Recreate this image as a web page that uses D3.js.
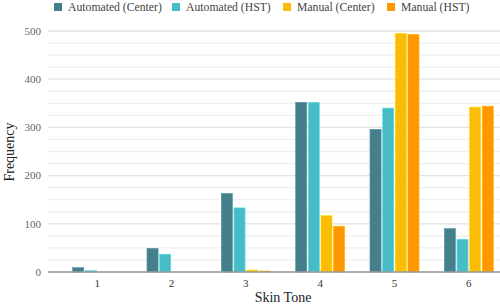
<!DOCTYPE html>
<html><head><meta charset="utf-8">
<script src="https://cdn.jsdelivr.net/npm/d3@7"></script>
<style>body{margin:0;background:#fff;}</style>
</head><body><svg width="500" height="306"></svg>
<script>
const categories = ["1","2","3","4","5","6"];
const seriesNames = ["Automated (Center)","Automated (HST)","Manual (Center)","Manual (HST)"];
const autoCenter = [9, 49, 163, 352, 296, 90];
const autoHST = [3, 37, 133, 352, 340, 68];
const manualCenter = [0, 0, 4, 117, 495, 342];
const manualHST = [0, 0, 2, 95, 493, 344];
const yTicks = [0,100,200,300,400,500];
const colors = ["#457f8c","#47bcc6","#fbbc05","#ff9800"];
const series = [autoCenter, autoHST, manualCenter, manualHST];
const FONT = "'Liberation Serif', 'Times New Roman', serif";

const svg = d3.select("svg");
const y = d3.scaleLinear().domain([0,500]).range([272,31]);
const x = d3.scaleBand().domain(categories).range([60,506]).paddingInner(0).paddingOuter(0);
const inner = d3.scaleBand().domain(d3.range(4)).range([0,x.bandwidth()]).paddingInner(0.12).paddingOuter(1.0);

const minor = d3.range(0,501,25);
svg.append("g").selectAll("line").data(minor).join("line")
  .attr("x1",48).attr("x2",500)
  .attr("y1",d=>y(d)).attr("y2",d=>y(d))
  .attr("stroke",d=>d%100===0?"#e2e2e2":"#efefef").attr("stroke-width",1.3);

svg.append("g").selectAll("text").data(yTicks).join("text")
  .attr("x",41).attr("y",d=>y(d)).attr("dy","0.35em")
  .attr("text-anchor","end").attr("font-size",11).attr("fill","#666")
  .attr("font-family",FONT)
  .text(d=>d);

const g = svg.append("g");
categories.forEach((c,i)=>{
  series.forEach((s,j)=>{
    const v = s[i];
    if (v<=0) return;
    g.append("rect")
      .attr("x", x(c)+inner(j))
      .attr("width", inner.bandwidth())
      .attr("y", y(v))
      .attr("height", y(0)-y(v))
      .attr("fill", colors[j])
      .attr("stroke", d3.color(colors[j]).brighter(0.5))
      .attr("stroke-width",0.6);
  });
});

svg.append("line").attr("x1",48).attr("x2",500).attr("y1",y(0)).attr("y2",y(0))
  .attr("stroke","#999").attr("stroke-width",1.3);

svg.append("g").selectAll("text").data(categories).join("text")
  .attr("x",d=>x(d)+x.bandwidth()/2).attr("y",287)
  .attr("text-anchor","middle").attr("font-size",11).attr("fill","#333")
  .attr("font-family",FONT)
  .text(d=>d);

svg.append("text").attr("x",283).attr("y",302).attr("text-anchor","middle")
  .attr("font-family",FONT)
  .attr("font-size",14).attr("fill","#222").text("Skin Tone");
svg.append("text").attr("transform","translate(14,152) rotate(-90)").attr("text-anchor","middle")
  .attr("font-family",FONT)
  .attr("font-size",14).attr("fill","#222").text("Frequency");

const legX = [54,172,283,387];
const leg = svg.append("g");
seriesNames.forEach((n,j)=>{
  leg.append("rect").attr("x",legX[j]).attr("y",3).attr("width",8).attr("height",8).attr("fill",colors[j]);
  leg.append("text").attr("x",legX[j]+14).attr("y",7).attr("dy","0.35em")
    .attr("font-family",FONT)
    .attr("font-size",11.7).attr("fill","#444").text(n);
});
</script></body></html>
